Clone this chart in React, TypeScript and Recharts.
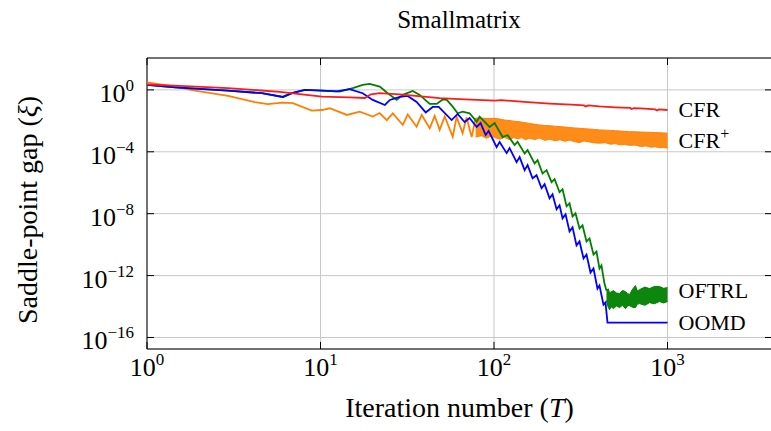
import React from "react";
import {
  ComposedChart,
  Line,
  Area,
  XAxis,
  YAxis,
  CartesianGrid,
  ReferenceArea,
  ReferenceDot,
} from "recharts";

const FONT = '"Liberation Serif", "Times New Roman", serif';

const X_MAJOR = [1, 10, 100, 1000];
const X_MINOR = [
  2, 3, 4, 5, 6, 7, 8, 9, 20, 30, 40, 50, 60, 70, 80, 90, 200, 300, 400, 500,
  600, 700, 800, 900, 2000, 3000,
];
const Y_MAJOR = [1, 1e-4, 1e-8, 1e-12, 1e-16];
const X_DOMAIN = [1, 4000];
const Y_DOMAIN = [1.8e-17, 115];

// CFR
const cfrT = [1, 2.93, 5.83, 10.2, 14.7, 18, 19.5, 21.9, 28.6, 48.6, 63.4, 101, 110, 150, 209, 280, 330, 338, 350, 405, 500, 610, 620, 640, 700, 850, 870, 890, 1000];
const cfrGap = [2.3, 1.29, 0.75, 0.37, 0.33, 0.3, 0.52, 0.61, 0.51, 0.29, 0.25, 0.2, 0.215, 0.17, 0.13, 0.11, 0.1, 0.085, 0.1, 0.085, 0.075, 0.068, 0.058, 0.066, 0.063, 0.055, 0.047, 0.055, 0.05];

// CFR+ (single line until the oscillation turns into a dense band)
const cfrPlusT = [1, 1.45, 1.89, 2.93, 4.19, 4.97, 5.99, 6.93, 8.91, 10.2, 11.3, 14.2, 16.8, 20, 21.9, 24.1, 26.1, 29.8, 31.8, 35.8, 38.3, 42.6, 45.5, 48.6, 52, 57.8, 60.9, 65.9, 69.5, 74.3, 78.3];
const cfrPlusGap = [3.1, 1.6, 0.9, 0.41, 0.16, 0.12, 0.15, 0.14, 0.046, 0.05, 0.065, 0.024, 0.039, 0.019, 0.032, 0.011, 0.03, 0.0054, 0.026, 0.0042, 0.024, 0.0033, 0.021, 0.0026, 0.019, 9.3e-4, 0.018, 1.6e-3, 0.0165, 8.9e-4, 0.015];
const cfrPlusBandT = [78.3, 85, 90, 96, 101, 108, 115, 122, 130, 137, 144, 152, 160, 172, 183, 196, 210, 225, 240, 256, 272, 290, 310, 330, 350, 378, 405, 437, 470, 500, 530, 565, 604, 650, 700, 750, 800, 850, 900, 950, 1000];
const cfrPlusBandLo = [9e-4, 1.1e-3, 7.5e-4, 1e-3, 8.5e-4, 6.5e-4, 8.5e-4, 6.2e-4, 8.3e-4, 6.8e-4, 8.3e-4, 6e-4, 7.5e-4, 6.2e-4, 7.8e-4, 5.5e-4, 6.5e-4, 5.2e-4, 6e-4, 4.8e-4, 5.7e-4, 4.6e-4, 3.9e-4, 5e-4, 4.4e-4, 3.8e-4, 3.6e-4, 3.9e-4, 3.1e-4, 3.4e-4, 2.8e-4, 3e-4, 2.6e-4, 2.7e-4, 2.2e-4, 2.4e-4, 2e-4, 2.1e-4, 1.8e-4, 1.9e-4, 1.7e-4];
const cfrPlusBandHi = [0.015, 0.0148, 0.0145, 0.0142, 0.0145, 0.013, 0.0113, 0.0105, 0.0095, 0.009, 0.0083, 0.0075, 0.0068, 0.006, 0.0054, 0.005, 0.0048, 0.0045, 0.0042, 0.004, 0.0037, 0.0035, 0.0033, 0.0031, 0.003, 0.0028, 0.0026, 0.0025, 0.0024, 0.0023, 0.0022, 0.0021, 0.002, 0.00195, 0.0019, 0.00185, 0.0018, 0.00175, 0.0017, 0.00165, 0.0016];

// OFTRL
const oftrlT = [1, 1.45, 2.93, 4.59, 6.07, 6.84, 8.12, 10.2, 12.4, 12.9, 15.35, 17.5, 19.2, 21.95, 24.4, 27.5, 29.8, 34, 37.3, 42.6, 46.7, 50.6, 53.4, 57.8, 61.7, 66, 72.3, 79.4, 82.6, 94.3, 100.8, 112.1, 119.7, 131.4, 136.7, 150.1, 156.1, 171.3, 178.2, 190.5, 200.9, 214.6, 223.4, 238.6, 248.3, 261.8, 272.4, 283.5, 294.9, 311, 323.6, 341.2, 355.1, 374.4, 389.5, 405.3, 416.1, 433, 444.6];
const oftrlGap = [2.11, 1.45, 0.9, 0.61, 0.35, 0.61, 1, 0.9, 0.8, 0.776, 1.29, 2.11, 2.45, 1.64, 0.61, 0.224, 0.474, 0.86, 0.474, 0.124, 0.124, 0.242, 0.224, 0.0826, 0.0308, 0.0392, 0.0308, 0.0088, 0.0185, 0.004, 0.0072, 8.95e-4, 1.21e-3, 2.71e-4, 4.44e-4, 7.85e-5, 1.29e-4, 1.76e-5, 2.89e-5, 3.96e-6, 6.5e-6, 1.08e-6, 1.69e-6, 2.43e-7, 3.8e-7, 3e-8, 4.7e-8, 6.7e-9, 1.05e-8, 1.12e-9, 1.76e-9, 1.61e-10, 2.52e-10, 2.3e-11, 3.6e-11, 2.86e-12, 4.5e-12, 3.05e-13, 1.07e-13];
const oftrlBandT = [444.6, 455, 463, 475, 488, 508, 529, 550, 572, 588, 604, 628, 653, 670, 689, 740, 787, 840, 898, 950, 1000];
const oftrlBandLo = [2.4e-14, 9e-15, 6.3e-15, 9.5e-15, 7.3e-15, 1.1e-14, 8.5e-15, 1.2e-14, 7.3e-15, 1.1e-14, 1.14e-14, 9e-15, 8.5e-15, 1.4e-14, 1.55e-14, 1.2e-14, 1.78e-14, 1.5e-14, 2.1e-14, 1.7e-14, 2.1e-14];
const oftrlBandHi = [1.07e-13, 1.4e-13, 7.9e-14, 9e-14, 1.07e-13, 7.5e-14, 6.9e-14, 1.1e-13, 9.2e-14, 7e-14, 5.9e-14, 1.3e-13, 2.25e-13, 1e-13, 1.23e-13, 1.8e-13, 1.44e-13, 2e-13, 1.95e-13, 1.5e-13, 1.67e-13];

// OOMD
const oomdT = [1, 1.45, 2.93, 4.59, 6.07, 6.84, 8.12, 10.2, 12.4, 14.7, 17.5, 20, 23.5, 25.1, 28.6, 31.8, 35.8, 40.4, 44.3, 48, 57, 61.7, 67.7, 72.3, 79.4, 83.7, 89.5, 93.1, 103.5, 107.7, 118.2, 122.9, 134.9, 140.4, 150.1, 156.1, 166.8, 175.9, 187.9, 195.6, 209, 217.4, 229.3, 238.6, 248.3, 258.4, 272.4, 283.5, 298.8, 311, 328, 341.2, 359.8, 374.4, 394.7, 405.3, 427.4, 438.9, 450.8, 1000];
const oomdGap = [2.11, 1.45, 0.9, 0.61, 0.35, 0.61, 1, 0.9, 0.8, 1.11, 0.61, 0.224, 0.106, 0.224, 0.35, 0.41, 0.167, 0.035, 0.079, 0.079, 0.0113, 0.0278, 0.0084, 0.0153, 0.004, 0.0072, 0.00121, 0.00219, 2.01e-4, 4.25e-4, 8.2e-5, 1.73e-4, 2.14e-5, 4.52e-5, 6.5e-6, 1.37e-5, 1.96e-6, 3.07e-6, 4.4e-7, 8e-7, 9.9e-8, 1.8e-7, 1.92e-8, 3.5e-8, 5e-9, 9.1e-9, 7.2e-10, 1.3e-9, 8.9e-11, 1.61e-10, 1.27e-11, 2.3e-11, 1.57e-12, 2.86e-12, 1.44e-13, 2.26e-13, 1.32e-14, 1.79e-14, 9e-16, 9e-16];

const COLORS = {
  cfr: "#ff1a1a",
  cfrPlus: "#ff8000",
  oftrl: "#008000",
  oomd: "#0000ff",
};

// layout
const W = 790;
const H = 431;
const PLOT_LEFT = 147;
const PLOT_TOP = 58;
const PLOT_BOTTOM = 349;
const PLOT_RIGHT = 772;
const LINE_W = 1.8;

const toLine = (t: number[], g: number[]) => t.map((v, i) => ({ t: v, gap: g[i] }));
const toBand = (t: number[], lo: number[], hi: number[]) =>
  t.map((v, i) => ({ t: v, band: [lo[i], hi[i]] }));

const cfrData = toLine(cfrT, cfrGap);
const cfrPlusData = toLine(cfrPlusT, cfrPlusGap);
const cfrPlusBand = toBand(cfrPlusBandT, cfrPlusBandLo, cfrPlusBandHi);
const oftrlData = toLine(oftrlT, oftrlGap);
const oftrlBand = toBand(oftrlBandT, oftrlBandLo, oftrlBandHi);
const oomdData = toLine(oomdT, oomdGap);

const last = (a: number[]) => a[a.length - 1];
const endLabels = [
  { name: "CFR", sup: "", y: last(cfrGap), dy: 7 },
  { name: "CFR", sup: "+", y: Math.sqrt(last(cfrPlusBandLo) * last(cfrPlusBandHi)), dy: 7 },
  { name: "OFTRL", sup: "", y: Math.sqrt(last(oftrlBandLo) * last(oftrlBandHi)), dy: 3 },
  { name: "OOMD", sup: "", y: last(oomdGap), dy: 7 },
];

const expText = (v: number) => {
  const e = Math.round(Math.log10(v));
  return e < 0 ? "\u2212" + -e : String(e);
};

function XMajorTick({ x, payload }: any) {
  return (
    <g>
      <line x1={x} x2={x} y1={PLOT_BOTTOM} y2={PLOT_BOTTOM - 7} stroke="#000" />
      <line x1={x} x2={x} y1={PLOT_TOP} y2={PLOT_TOP + 7} stroke="#000" />
      <text x={x} y={PLOT_BOTTOM + 27} textAnchor="middle" fontFamily={FONT} fontSize={26} fill="#000">
        10
        <tspan dy={-11} fontSize={17}>
          {expText(payload.value)}
        </tspan>
      </text>
    </g>
  );
}

function XMinorTick({ x }: any) {
  return (
    <g>
      <line x1={x} x2={x} y1={PLOT_BOTTOM} y2={PLOT_BOTTOM - 4} stroke="#000" />
      <line x1={x} x2={x} y1={PLOT_TOP} y2={PLOT_TOP + 4} stroke="#000" />
    </g>
  );
}

function YMajorTick({ y, payload }: any) {
  return (
    <g>
      <line x1={PLOT_LEFT} x2={PLOT_LEFT + 7} y1={y} y2={y} stroke="#000" />
      <line x1={PLOT_RIGHT - 7} x2={PLOT_RIGHT} y1={y} y2={y} stroke="#000" />
      <text x={134} y={y + 12} textAnchor="end" fontFamily={FONT} fontSize={26} fill="#000">
        10
        <tspan dy={-11} fontSize={17}>
          {expText(payload.value)}
        </tspan>
      </text>
    </g>
  );
}

function XTitle() {
  return (
    <text x={(PLOT_LEFT + PLOT_RIGHT) / 2} y={417} textAnchor="middle" fontFamily={FONT} fontSize={28} fill="#000">
      Iteration number (<tspan fontStyle="italic">T</tspan>)
    </text>
  );
}

function YTitle() {
  return (
    <text
      x={37}
      y={210}
      transform="rotate(-90 37 210)"
      textAnchor="middle"
      fontFamily={FONT}
      fontSize={28}
      fill="#000"
    >
      Saddle-point gap (<tspan fontStyle="italic">ξ</tspan>)
    </text>
  );
}

export default function App() {
  return (
    <div
      style={{
        position: "fixed",
        left: 0,
        top: 0,
        width: 771,
        height: 431,
        overflow: "hidden",
        background: "#fff",
      }}
    >
      <div
        style={{
          position: "absolute",
          left: 0,
          top: 6,
          width: 918,
          textAlign: "center",
          fontFamily: FONT,
          fontSize: 25,
          color: "#000",
        }}
      >
        Smallmatrix
      </div>
      <ComposedChart
        width={W}
        height={H}
        margin={{ top: PLOT_TOP, right: W - PLOT_RIGHT, left: 0, bottom: 0 }}
      >
        <CartesianGrid stroke="#c8c8c8" strokeWidth={1} />
        <XAxis
          dataKey="t"
          type="number"
          scale="log"
          domain={X_DOMAIN}
          allowDataOverflow
          ticks={X_MAJOR}
          tick={<XMajorTick />}
          tickLine={false}
          axisLine={false}
          height={H - PLOT_BOTTOM}
          label={<XTitle />}
        />
        <XAxis
          xAxisId="minor"
          orientation="top"
          dataKey="t"
          type="number"
          scale="log"
          domain={X_DOMAIN}
          allowDataOverflow
          ticks={X_MINOR}
          tick={<XMinorTick />}
          tickLine={false}
          axisLine={false}
          height={0}
        />
        <YAxis
          type="number"
          scale="log"
          domain={Y_DOMAIN}
          allowDataOverflow
          ticks={Y_MAJOR}
          tick={<YMajorTick />}
          tickLine={false}
          axisLine={false}
          width={PLOT_LEFT}
          label={<YTitle />}
        />
        <Area
          data={cfrPlusBand}
          dataKey="band"
          type="linear"
          stroke={COLORS.cfrPlus}
          strokeWidth={1}
          fill={COLORS.cfrPlus}
          fillOpacity={0.9}
          isAnimationActive={false}
        />
        <Line data={cfrPlusData} dataKey="gap" type="linear" stroke={COLORS.cfrPlus} strokeWidth={LINE_W} dot={false} isAnimationActive={false} />
        <Area
          data={oftrlBand}
          dataKey="band"
          type="linear"
          stroke={COLORS.oftrl}
          strokeWidth={1}
          fill={COLORS.oftrl}
          fillOpacity={0.95}
          isAnimationActive={false}
        />
        <Line data={oftrlData} dataKey="gap" type="linear" stroke={COLORS.oftrl} strokeWidth={LINE_W} dot={false} isAnimationActive={false} />
        <Line data={oomdData} dataKey="gap" type="linear" stroke={COLORS.oomd} strokeWidth={LINE_W} dot={false} isAnimationActive={false} />
        <Line data={cfrData} dataKey="gap" type="linear" stroke={COLORS.cfr} strokeWidth={LINE_W} dot={false} isAnimationActive={false} />
        <ReferenceArea
          x1={X_DOMAIN[0]}
          x2={X_DOMAIN[1]}
          y1={Y_DOMAIN[0]}
          y2={Y_DOMAIN[1]}
          fill="none"
          stroke="#000"
          strokeWidth={1}
        />
        {endLabels.map((l) => (
          <ReferenceDot
            key={l.name + l.sup}
            x={1000}
            y={l.y}
            r={0}
            shape={(p: any) => (
              <text x={p.cx + 11} y={p.cy + l.dy} fontFamily={FONT} fontSize={22} fill="#000">
                {l.name}
                {l.sup && (
                  <tspan dy={-9} fontSize={16}>
                    {l.sup}
                  </tspan>
                )}
              </text>
            )}
          />
        ))}
      </ComposedChart>
    </div>
  );
}
